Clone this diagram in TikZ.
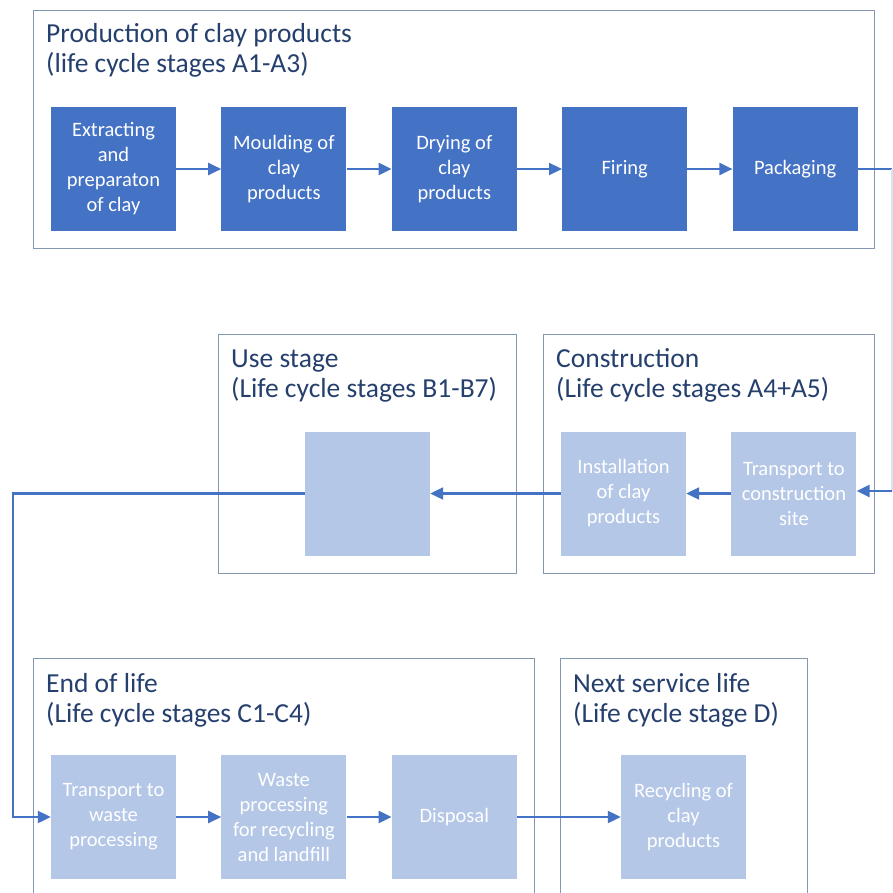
\documentclass[tikz,border=0pt]{standalone}
\usepackage{fontspec}
\setmainfont{Carlito}
\usetikzlibrary{arrows.meta,positioning}
\definecolor{stepblue}{HTML}{4472C4}
\definecolor{paleblue}{HTML}{B4C7E7}
\definecolor{titleblue}{HTML}{26406E}
\definecolor{framegray}{HTML}{8497B0}
\definecolor{paleline}{HTML}{D2E6F0}
\tikzset{
  stage frame/.style={draw=framegray, line width=0.9pt},
  stage title/.style={anchor=base west, inner sep=0pt,
    text=titleblue, font=\fontsize{27.5}{30}\selectfont},
  process/.style={minimum width=125pt, minimum height=124pt, inner sep=2pt,
    align=center, text=white, font=\fontsize{20.5}{25}\selectfont},
  done step/.style={process, fill=stepblue},
  open step/.style={process, fill=paleblue},
  flow/.style={draw=stepblue, line width=2.2pt, -{Triangle[length=13pt,width=12pt]}},
  node distance=45pt,
}

\begin{document}
\begin{tikzpicture}[x=1pt,y=-1pt]
\useasboundingbox (0,0) rectangle (893,893);
\clip (0,0) rectangle (893,893);
\fill[white] (0,0) rectangle (893,893);

% stage frames
\draw[stage frame] (33,10) rectangle (874,248);
\draw[stage frame] (218,334) rectangle (516,573);
\draw[stage frame] (543,334) rectangle (874,573);
\draw[stage frame] (33,658) rectangle (534,910);
\draw[stage frame] (560,658) rectangle (807,910);

\node[stage title] (prodtitle) at (46,43) {Production of clay products};
\node[stage title] (prodsub) at (46,73) {(life cycle stages A1-A3)};
\node[stage title] (usetitle) at (231,367) {Use stage};
\node[stage title] (usesub) at (231,397) {(Life cycle stages B1-B7)};
\node[stage title] (constitle) at (556,367) {Construction};
\node[stage title] (conssub) at (556,397) {(Life cycle stages A4+A5)};
\node[stage title] (eoltitle) at (46,692) {End of life};
\node[stage title] (eolsub) at (46,722) {(Life cycle stages C1-C4)};
\node[stage title] (nexttitle) at (573,692) {Next service life};
\node[stage title] (nextsub) at (573,722) {(Life cycle stage D)};

% A1-A3
\node[done step] (extract) at (113.5,169) {Extracting\\and\\preparaton\\of clay};
\node[done step, right=of extract] (mould) {Moulding of\\clay\\products};
\node[done step, right=of mould] (dry) {Drying of\\clay\\products};
\node[done step, right=of dry] (fire) {Firing};
\node[done step, right=of fire] (pack) {Packaging};

% A4+A5 and B1-B7
\node[open step] (install) at (623.5,493.5) {Installation\\of clay\\products};
\node[open step, right=of install] (site) {Transport to\\construction\\site};
\node[open step] (use) at (367.5,493.5) {};

% C1-C4 and D
\node[open step] (haul) at (113.5,817) {Transport to\\waste\\processing};
\node[open step, right=of haul] (sort) {Waste\\processing\\for recycling\\and landfill};
\node[open step, right=of sort] (dispose) {Disposal};
\node[open step] (recycle) at (683.5,817) {Recycling of\\clay\\products};

\coordinate (rtop) at (892,169);
\coordinate (rbot) at (892,491);
\coordinate (lturn) at (13,650);

\draw[flow] (extract) -- (mould);
\draw[flow] (mould) -- (dry);
\draw[flow] (dry) -- (fire);
\draw[flow] (fire) -- (pack);
\draw[stepblue, line width=2.2pt] (pack.east) -- (rtop);
\draw[paleline, line width=2.2pt] (rtop) -- (rbot);
\draw[flow] (rbot) -- (site.east |- rbot);
\draw[flow] (site) -- (install);
\draw[flow] (install) -- (use);
\draw[flow] (use.west) -| (lturn) |- (haul.west);
\draw[flow] (haul) -- (sort);
\draw[flow] (sort) -- (dispose);
\draw[flow] (dispose) -- (recycle);
\end{tikzpicture}
\end{document}
